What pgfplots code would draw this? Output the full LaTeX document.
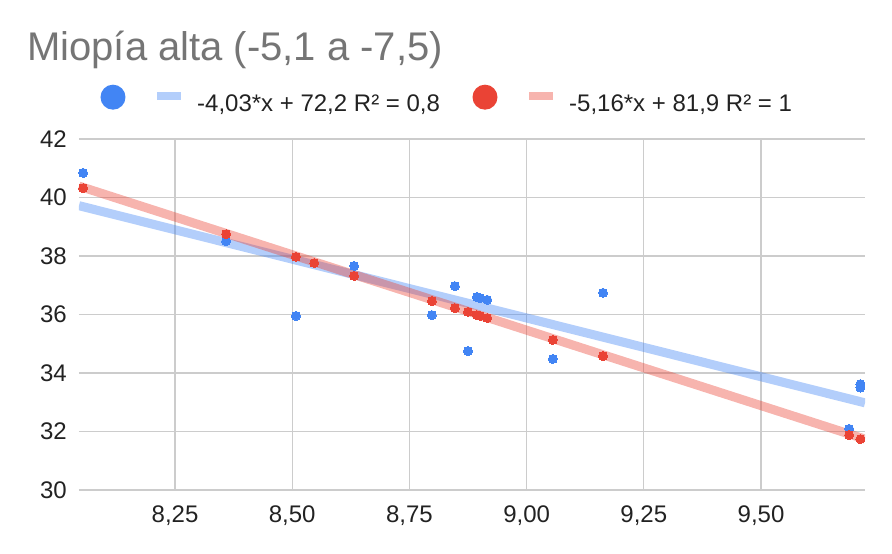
\documentclass[border=0pt]{standalone}
\usepackage{pgfplots}
\pgfplotsset{compat=1.18}
\usepackage{fontspec}
\setmainfont{Liberation Sans}
\definecolor{cBlue}{HTML}{4285F4}
\definecolor{cRed}{HTML}{EA4335}
\definecolor{gridgray}{HTML}{CCCCCC}
\definecolor{titlegray}{HTML}{757575}
\definecolor{ticktext}{HTML}{222222}
\begin{document}
\begin{tikzpicture}
\path[use as bounding box] (0,0) rectangle (892pt,554pt);
\node[anchor=base west, inner sep=0pt, font=\fontsize{40}{48}\selectfont, text=titlegray] at (27pt,493pt) {Miopía alta (-5,1 a -7,5)};
\begin{axis}[
  at={(79pt,64pt)}, anchor=south west,
  scale only axis, width=786pt, height=351pt,
  xmin=8.0452, xmax=9.7218, ymin=30, ymax=42,
  xtick={8.25,8.5,8.75,9,9.25,9.5},
  xticklabels={{8,25},{8,50},{8,75},{9,00},{9,25},{9,50}},
  ytick={30,32,34,36,38,40,42},
  yticklabels={30,32,34,36,38,40,42},
  grid=major,
  major grid style={draw=gridgray, line width=1.3pt},
  axis line style={draw=none},
  tick style={draw=none},
  major tick length=0pt,
  ticklabel style={font=\fontsize{24}{28}\selectfont, text=ticktext},
  yticklabel style={inner sep=0pt, anchor=east, xshift=-12pt},
  xticklabel style={inner sep=0pt, anchor=north, yshift=-16pt},
  clip=true,
  legend columns=2,
  legend style={
    at={(0.02735,1.1140)}, anchor=west,
    draw=none, fill=none, inner sep=0pt, outer sep=0pt,
    font=\fontsize{24}{28}\selectfont, text=ticktext,
    nodes={inner sep=0pt, outer sep=0pt},
    row sep=0pt,
    /tikz/every even column/.append style={column sep=32.5pt},
  },
  legend cell align=left,
]
% trend lines
\addplot[forget plot, draw=cBlue, draw opacity=0.4, line width=9pt, line cap=butt] coordinates {(8.0452,39.72) (9.7218,32.98)};
\addplot[forget plot, draw=cRed, draw opacity=0.4, line width=9pt, line cap=butt] coordinates {(8.0452,40.39) (9.7218,31.74)};
% scatter points
\addplot[forget plot, only marks, color=cBlue, mark=*, mark size=4.5pt, mark options={draw=cBlue, fill=cBlue, line width=0pt}] coordinates {
(8.054,40.84) (8.359,38.51) (8.508,35.95) (8.632,37.66) (8.798,35.98) (8.847,36.97) (8.875,34.75) (8.894,36.60) (8.901,36.56) (8.916,36.50) (9.056,34.48) (9.163,36.74) (9.688,32.09) (9.712,33.62) (9.712,33.50)
};
\addplot[forget plot, only marks, color=cRed, mark=*, mark size=4.5pt, mark options={draw=cRed, fill=cRed, line width=0pt}] coordinates {
(8.054,40.32) (8.359,38.75) (8.508,37.97) (8.547,37.76) (8.632,37.32) (8.798,36.46) (8.847,36.22) (8.875,36.09) (8.894,35.98) (8.901,35.95) (8.916,35.88) (9.056,35.13) (9.163,34.58) (9.688,31.88) (9.712,31.74)
};
\addlegendimage{legend image code/.code={
  \path[fill=cBlue, draw=none] (0pt,7pt) circle (12.5pt);
  \path[fill=cBlue, fill opacity=0.4, draw=none] (44pt,4.5pt) rectangle (68pt,12.5pt);
  \path (84pt,0pt);
}}
\addlegendentry{-4,03*x + 72,2 R² = 0,8}
\addlegendimage{legend image code/.code={
  \path[fill=cRed, draw=none] (0pt,7pt) circle (12.5pt);
  \path[fill=cRed, fill opacity=0.4, draw=none] (44pt,4.5pt) rectangle (68pt,12.5pt);
  \path (84pt,0pt);
}}
\addlegendentry{-5,16*x + 81,9 R² = 1}
\end{axis}
\end{tikzpicture}
\end{document}
